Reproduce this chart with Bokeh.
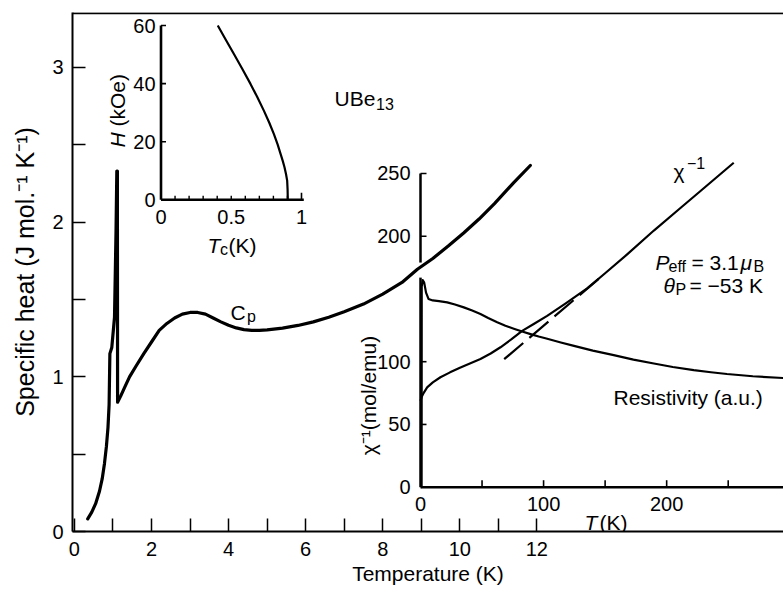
import numpy as np
from bokeh.plotting import figure
from bokeh.models import Range1d, FixedTicker, Label, Span
from bokeh.embed import file_html
from bokeh.resources import INLINE
from bokeh.core.properties import value

FONT = "Liberation Sans"

# ---------------- data ----------------
# main panel: specific heat of UBe13 (J/mol K) vs temperature (K)
cp_T = [0.345, 0.45, 0.55, 0.65, 0.72, 0.78, 0.83, 0.87, 0.90, 0.92, 0.97, 1.04, 1.08,
        1.10, 1.115, 1.12, 1.20, 1.30, 1.43, 1.60, 1.80, 2.00, 2.20, 2.40, 2.60, 2.80,
        3.00, 3.20, 3.40, 3.60, 3.80, 4.00, 4.20, 4.40, 4.60, 4.80, 5.00, 5.40, 5.80,
        6.20, 6.60, 7.00, 7.50, 8.00, 8.50, 8.90, 9.30, 9.70, 10.10, 10.50, 10.90,
        11.40, 11.83]
cp_C = [0.082, 0.125, 0.18, 0.26, 0.34, 0.44, 0.55, 0.67, 0.82, 1.15, 1.19, 1.385, 1.95,
        2.33, 2.33, 0.836, 0.875, 0.93, 1.00, 1.07, 1.15, 1.225, 1.30, 1.345, 1.38, 1.405,
        1.416, 1.416, 1.405, 1.38, 1.355, 1.333, 1.316, 1.305, 1.300, 1.300, 1.303, 1.315,
        1.332, 1.355, 1.385, 1.42, 1.47, 1.535, 1.61, 1.695, 1.765, 1.845, 1.93, 2.02,
        2.12, 2.255, 2.366]

# right inset: inverse susceptibility (mol/emu) vs T (K)
chi_T = [0, 1, 2.5, 5.4, 10, 16.2, 24, 32.5, 40.6, 48.7, 57, 65, 74, 82.6, 92, 102.9,
         118, 135.4, 150, 167.9, 189.6, 210, 227.5, 254.5]
chi_inv = [68.9, 72, 75, 79.6, 83.5, 87.6, 91.5, 95.4, 98.8, 102.2, 106.5, 111.5, 118,
           124.6, 130, 136.5, 146.5, 158.5, 170.5, 185.5, 204.5, 221.5, 236, 258.5]
# Curie-Weiss fit line (dashed)
cw_T = [68, 146]
cw_chi = [102, 167]
# resistivity (a.u., drawn on the inset scale)
rho_T = [0.7, 0.9, 1.0, 1.8, 3.0, 4.5, 6.5, 10, 15, 21.7, 28, 35.2, 42, 48.7, 55, 62.3,
         69, 75.8, 82.6, 89.4, 96, 103, 114, 124.7, 140, 157, 173, 189.6, 205, 222, 236,
         249, 270, 295]
rho = [0, 0, 160, 165, 163, 155, 150, 148.8, 148.2, 147.3, 145.6, 143.3, 140.8, 138,
       134.8, 131.4, 128.6, 126.3, 124.1, 122, 120.1, 118.3, 115.3, 112.6, 108.8, 105.2,
       101.7, 98.6, 95.8, 93.3, 91.6, 90.2, 88.4, 87]

# upper-left inset: critical field H (kOe) vs Tc (K)
hc_T = [0.404, 0.46, 0.518, 0.578, 0.637, 0.686, 0.732, 0.770, 0.803, 0.830, 0.851,
        0.867, 0.879, 0.890, 0.898, 0.901, 0.9025]
hc_H = [60, 55.2, 50.3, 45.1, 39.9, 35.3, 30.7, 26.6, 22.7, 19.1, 15.8, 13.3, 11.2, 8.8,
        6.6, 3.5, 0]

# ticks
main_xticks = [0, 2, 4, 6, 8, 10, 12]
main_xminor = [1, 3, 5, 7, 9, 11]
main_yticks = [0, 1, 2, 3]
main_yminor = [0.5, 1.5, 2.5]
chi_xticks = [50, 100, 150, 200, 250]
chi_xlabels = [0, 100, 200]
chi_yticks = [50, 100, 200, 250]
chi_ylabels = [0, 50, 100, 200, 250]
hc_xticks = [0.1, 0.2, 0.3, 0.4, 0.5, 0.6, 0.7, 0.8, 0.9]
hc_xlabels = [0, 0.5, 1]
hc_xlabel_txt = ["0", "0.5", "1"]
hc_yticks = [20, 40, 60]
hc_ylabels = [0, 20, 40, 60]

# ---------------- layout ----------------
W, H = 783, 590
FL, FR, FT, FB = 72, 783, 12, 531
XM = (-0.05, 18.4)
YM = (0.0, 3.355)


def lin(v0, p0, v1, p1):
    s = (p1 - p0) / (v1 - v0)
    return lambda px: v0 + (px - p0) / s


mx = lin(XM[0], FL, XM[1], FR)
my = lin(YM[0], FB, YM[1], FT)
cx = lin(0, 420, 250, 727.7)
cy = lin(0, 486.7, 200, 235.7)
hx = lin(0, 160.5, 1, 301)
hy = lin(0, 199.3, 60, 25)

p = figure(width=W, height=H, x_range=Range1d(*XM), y_range=Range1d(*YM),
           output_backend="svg", toolbar_location=None,
           min_border_left=FL, min_border_right=W - FR,
           min_border_top=FT, min_border_bottom=H - FB)
p.extra_x_ranges = {"cT": Range1d(cx(FL), cx(FR)), "hT": Range1d(hx(FL), hx(FR))}
p.extra_y_ranges = {"chi": Range1d(cy(FB), cy(FT)), "H": Range1d(hy(FB), hy(FT))}
p.outline_line_color = None
p.xgrid.visible = False
p.ygrid.visible = False
p.background_fill_color = "white"
p.border_fill_color = "white"

for ax in (p.xaxis[0], p.yaxis[0]):
    ax.major_tick_in = 13
    ax.major_tick_out = 0
    ax.minor_tick_in = 13
    ax.minor_tick_out = 0
    ax.axis_line_width = 2
    ax.axis_line_color = "black"
    ax.major_tick_line_width = 1.5
    ax.minor_tick_line_width = 1.5
    ax.major_tick_line_color = "black"
    ax.minor_tick_line_color = "black"
    ax.major_label_text_font = FONT
    ax.major_label_text_font_size = "20px"
    ax.major_label_text_color = "black"
    ax.axis_label_text_font = FONT
    ax.axis_label_text_font_size = "21px"
    ax.axis_label_text_font_style = "normal"
    ax.axis_label_text_color = "black"

xa = p.xaxis[0]
xa.ticker = FixedTicker(ticks=main_xticks, minor_ticks=main_xminor)
xa.axis_label = "Temperature (K)"
xa.major_label_standoff = 10
xa.axis_label_standoff = 3

ya = p.yaxis[0]
ya.ticker = FixedTicker(ticks=main_yticks, minor_ticks=main_yminor)
ya.axis_label = "Specific heat (J mol.\u207b\u00b9 K\u207b\u00b9)"
ya.axis_label_text_font_size = "25px"
ya.major_label_standoff = 9
ya.axis_label_standoff = 10

p.add_layout(Span(location=my(12.7), dimension="width", line_color="black", line_width=2))

# ---------- right inset: axes ----------
ck = dict(x_range_name="cT", y_range_name="chi", line_color="black")
p.segment(x0=[0, 0, 0], y0=[0, 0, 179], x1=[cx(FR), 0, 0], y1=[0, 167, 250],
          line_width=2.5, **ck)
p.ray(x=chi_xticks, y=[0] * len(chi_xticks), length=7, length_units="screen",
      angle=np.pi / 2, line_width=1.6, **ck)
p.ray(x=[0] * len(chi_yticks), y=chi_yticks, length=6, length_units="screen",
      angle=0, line_width=1.6, **ck)
tk = dict(text_font=value(FONT), text_font_size="20px", text_color="black")
p.text(x=chi_xlabels, y=[cy(503.5)] * len(chi_xlabels), text=[str(v) for v in chi_xlabels],
       text_align="center", text_baseline="middle", x_range_name="cT", y_range_name="chi", **tk)
p.text(x=[cx(410)] * len(chi_ylabels), y=chi_ylabels, text=[str(v) for v in chi_ylabels],
       text_align="right", text_baseline="middle", x_range_name="cT", y_range_name="chi", **tk)

# ---------- right inset: curves ----------
p.line(rho_T, rho, line_width=2.2, line_join="round", **ck)
p.line(chi_T, chi_inv, line_width=2.2, line_join="round", **ck)
p.line(cw_T, cw_chi, line_width=2.2, line_dash="25 8", **ck)

# ---------- upper-left inset ----------
hk = dict(x_range_name="hT", y_range_name="H", line_color="black")
p.segment(x0=[0, 0], y0=[0, 0], x1=[hx(303.3), 0], y1=[0, 60], line_width=2.6, **hk)
p.ray(x=hc_xticks, y=[0] * len(hc_xticks), length=4, length_units="screen",
      angle=np.pi / 2, line_width=1.4, **hk)
p.ray(x=[1.0], y=[0], length=7, length_units="screen", angle=np.pi / 2, line_width=1.6, **hk)
p.ray(x=[0] * len(hc_yticks), y=hc_yticks, length=5, length_units="screen",
      angle=0, line_width=1.6, **hk)
p.text(x=hc_xlabels, y=[hy(216.7)] * len(hc_xlabels), text=hc_xlabel_txt,
       text_align="center", text_baseline="middle", x_range_name="hT", y_range_name="H", **tk)
p.text(x=[hx(155)] * len(hc_ylabels), y=hc_ylabels, text=[str(v) for v in hc_ylabels],
       text_align="right", text_baseline="middle", x_range_name="hT", y_range_name="H", **tk)
p.line(hc_T, hc_H, line_width=2.2, line_join="round", **hk)

# ---------- main curve ----------
p.line(cp_T, cp_C, line_width=3.2, line_color="black", line_join="round", line_cap="round")


# ---------- annotations ----------
def lab(px, py, text, size=21, style="normal", align="left", baseline="alphabetic", angle=0.0):
    p.add_layout(Label(x=mx(px), y=my(py), text=text, text_font=FONT,
                       text_font_size=f"{size}px", text_font_style=style,
                       text_align=align, text_baseline=baseline, angle=angle,
                       text_color="black"))


lab(334, 98, "UBe")
lab(375.5, 103, "13", size=16)
lab(230, 312, "C")
lab(246.5, 316, "p", size=16)
lab(673, 171, "\u03c7")
lab(686.5, 162, "\u22121", size=16)
lab(655, 261.7, "P", style="italic")
lab(668, 266, "eff", size=16)
lab(691, 261.7, "= 3.1")
lab(740, 261.7, "\u03bc", style="italic")
lab(753, 266, "B", size=16)
lab(663, 285, "\u03b8", style="italic")
lab(675, 289, "P", size=16)
lab(689, 285, "= \u221253 K")
lab(613, 397, "Resistivity (a.u.)")
lab(584, 522, "T", style="italic")
lab(599, 522, "(K)")
lab(368, 395, "\u03c7\u207b\u00b9(mol/emu)", align="center", baseline="middle", angle=np.pi / 2)
lab(117, 147, "H", style="italic", angle=np.pi / 2)
lab(117, 126, "(kOe)", angle=np.pi / 2)
lab(207, 245, "T", style="italic")
lab(219.5, 249, "c", size=16)
lab(228, 245, "(K)")

open("out.html", "w").write(file_html(p, INLINE))
